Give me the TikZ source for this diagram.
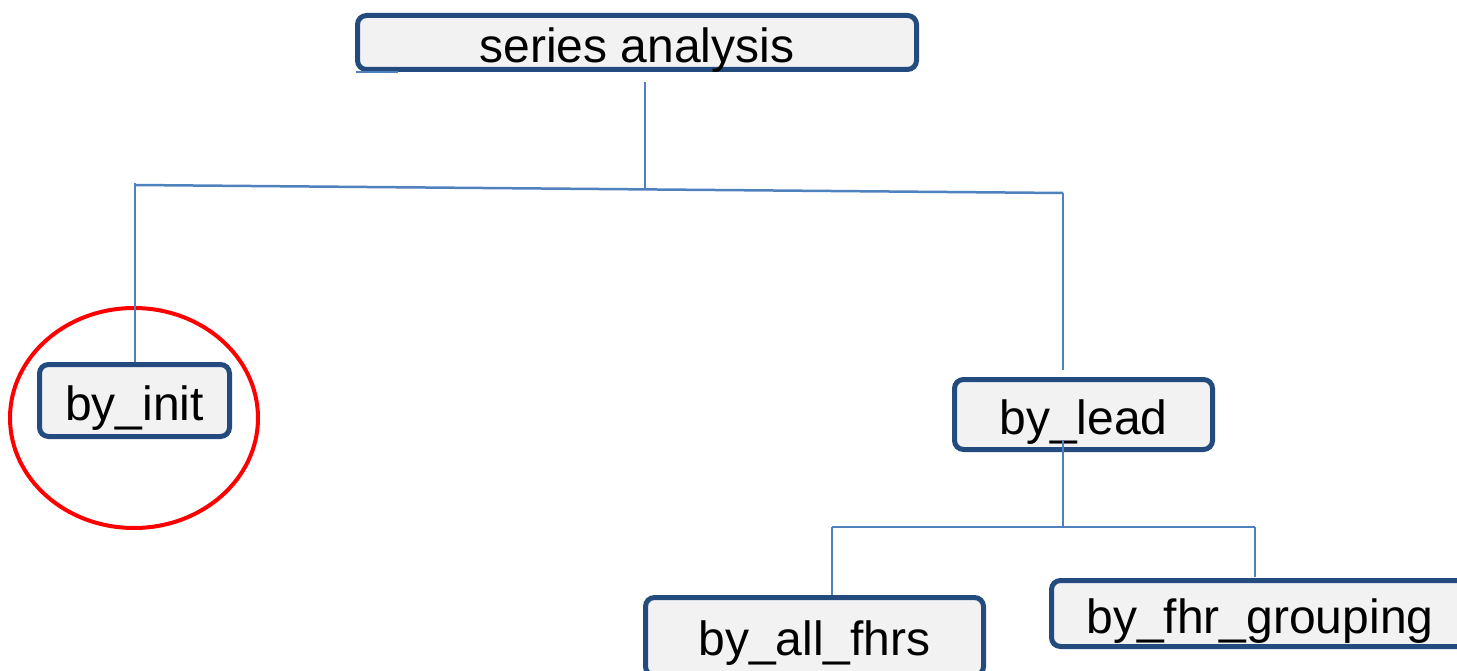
\documentclass[tikz,border=0pt]{standalone}
\usepackage{fontspec}
\setmainfont{Liberation Sans}
\definecolor{boxborder}{HTML}{234B7D}
\definecolor{boxfill}{HTML}{F2F2F2}
\definecolor{connblue}{HTML}{4F81BD}
\definecolor{ringred}{HTML}{FF0000}
\begin{document}
\begin{tikzpicture}[x=1pt,y=-1pt,
  tbox/.style={draw=boxborder, fill=boxfill, line width=5pt, rounded corners=9pt,
    inner sep=0pt, text height=40pt, text depth=0pt,
    font=\fontsize{48}{56}\selectfont, text=black},
  conn/.style={draw=connblue, line width=2.5pt},
  ring/.style={draw=ringred, line width=4pt}]
\useasboundingbox (0,0) rectangle (1457,671);

\node[tbox, minimum width=559pt, minimum height=54pt] (sa) at (637,42.5) {series analysis};
\node[tbox, minimum width=190pt, minimum height=72pt] (init) at (134.5,400.5) {by\_init};
\node[tbox, minimum width=258pt, minimum height=70pt] (lead) at (1083.5,414.5) {by\_lead};
\node[tbox, minimum width=338pt, minimum height=78pt, text height=37pt] (fhrs) at (814.5,636.5) {by\_all\_fhrs};
\node[tbox, minimum width=417pt, minimum height=66pt] (grp) at (1260,613.5) {by\_fhr\_grouping};

\draw[ring] (134,418) ellipse [x radius=124, y radius=110];

% small stub under the top box
\coordinate (stubL) at (356,72);
\coordinate (stubR) at (398,72);
\draw[conn, line width=2.5pt] (stubL) -- (stubR);

% top level connectors
\coordinate (t1) at (645,82);
\coordinate (t2) at (645,188);
\coordinate (hl) at (135,183);
\coordinate (hlb) at (135,185);
\coordinate (hr) at (1063,193);
\coordinate (hrb) at (1063,370);
\draw[conn] (t1) -- (t2);
\draw[conn] (hlb) -- (hr);
\draw[conn] (hl) -- (hl |- init.north);
\draw[conn] (hr) -- (hrb);

% by_lead children
\coordinate (l1) at (1063,440);
\coordinate (l2) at (1063,527);
\coordinate (bl) at (832,527);
\coordinate (br) at (1255,527);
\draw[conn] (l1) -- (l2);
\draw[conn] (bl) -- (br);
\draw[conn] (bl) -- (bl |- fhrs.north);
\draw[conn] (br) -- ([yshift=1pt]br |- grp.north);
\end{tikzpicture}
\end{document}
